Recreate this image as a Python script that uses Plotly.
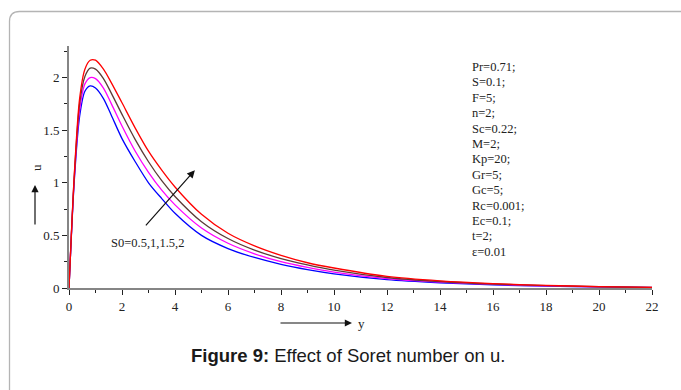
import plotly.graph_objects as go

# Velocity profiles u(y) for four values of the Soret number S0
y_vals = [0, 0.2, 0.4, 0.6, 0.8, 1.0, 1.3, 1.6, 2.0, 2.5, 3.0, 3.5, 4.0,
          5.0, 6.0, 7.0, 8.0, 9.0, 10, 12, 14, 16, 18, 20, 22]

u_s05 = [0, 1.02, 1.63, 1.87, 1.92, 1.90, 1.80, 1.64, 1.42, 1.20, 1.00, 0.85, 0.71,
         0.50, 0.375, 0.29, 0.225, 0.175, 0.135, 0.08, 0.05, 0.03, 0.018, 0.01, 0.004]
u_s10 = [0, 1.04, 1.69, 1.94, 2.00, 1.99, 1.90, 1.75, 1.54, 1.30, 1.10, 0.93, 0.79,
         0.57, 0.425, 0.325, 0.25, 0.195, 0.15, 0.09, 0.056, 0.034, 0.02, 0.011, 0.005]
u_s15 = [0, 1.06, 1.75, 2.01, 2.09, 2.08, 1.99, 1.85, 1.65, 1.41, 1.20, 1.02, 0.87,
         0.63, 0.47, 0.36, 0.28, 0.22, 0.17, 0.10, 0.062, 0.038, 0.023, 0.012, 0.005]
u_s20 = [0, 1.08, 1.80, 2.08, 2.165, 2.165, 2.08, 1.95, 1.76, 1.52, 1.30, 1.12, 0.96,
         0.70, 0.52, 0.40, 0.31, 0.24, 0.19, 0.11, 0.068, 0.042, 0.025, 0.014, 0.006]

series = [
    ("S0=0.5", u_s05, "#0000ff"),
    ("S0=1", u_s10, "#ff00ff"),
    ("S0=1.5", u_s15, "#5c3a36"),
    ("S0=2", u_s20, "#ff0000"),
]

x_ticks = list(range(0, 23, 2))
x_ticktext = [str(v) for v in x_ticks]
y_ticks = [0, 0.5, 1, 1.5, 2]
y_ticktext = ["0", "0.5", "1", "1.5", "2"]

params = ["Pr=0.71;", "S=0.1;", "F=5;", "n=2;", "Sc=0.22;", "M=2;", "Kp=20;",
          "Gr=5;", "Gc=5;", "Rc=0.001;", "Ec=0.1;", "t=2;", "\u03b5=0.01"]

W, H = 681, 390
ML, MR, MT, MB = 69, 29, 46, 102
PW, PH = W - ML - MR, H - MT - MB

def px(xp):
    return (xp - ML) / PW

def py(yp):
    return (H - MB - yp) / PH

SERIF = "Liberation Serif, Times New Roman, serif"

fig = go.Figure()
for name, u, col in series:
    fig.add_trace(go.Scatter(x=y_vals, y=u, mode="lines", name=name,
                             line=dict(color=col, width=1.3, shape="spline", smoothing=0.8),
                             hoverinfo="skip"))

axis_common = dict(showgrid=False, zeroline=False, showline=True,
                   linecolor="#858585", linewidth=2, ticks="outside",
                   tickcolor="#222", tickwidth=1.2, ticklen=5,
                   tickfont=dict(family=SERIF, size=13, color="#222"))

fig.update_xaxes(range=[0, 22], tickmode="array", tickvals=x_ticks, ticktext=x_ticktext,
                 minor=dict(dtick=1, tick0=0, ticks="outside", ticklen=3, tickcolor="#222"),
                 **axis_common)
fig.update_yaxes(range=[0, 2.3], tickmode="array", tickvals=y_ticks, ticktext=y_ticktext,
                 minor=dict(dtick=0.25, tick0=0, ticks="outside", ticklen=3, tickcolor="#222"),
                 **axis_common)

annotations = []
# parameter list
for i, t in enumerate(params):
    annotations.append(dict(xref="paper", yref="paper", x=px(470), y=py(67 + i * 15.4),
                            text=t, showarrow=False, xanchor="left", yanchor="middle",
                            font=dict(family=SERIF, size=12.5, color="#222")))
# S0 direction arrow and label
annotations.append(dict(xref="x", yref="y", axref="x", ayref="y",
                        x=4.75, y=1.12, ax=2.85, ay=0.58, text="", showarrow=True,
                        arrowhead=2, arrowsize=1.3, arrowwidth=1.2, arrowcolor="#111"))
annotations.append(dict(xref="paper", yref="paper", x=px(147), y=py(243),
                        xanchor="center", yanchor="middle",
                        text="S0=0.5,1,1.5,2", showarrow=False,
                        font=dict(family=SERIF, size=12.5, color="#222")))
# axis titles with arrows
annotations.append(dict(xref="paper", yref="paper", x=px(36), y=py(168), text="u",
                        xanchor="center", yanchor="middle",
                        textangle=-90, showarrow=False,
                        font=dict(family=SERIF, size=13, color="#222")))
annotations.append(dict(xref="paper", yref="paper", x=px(35), y=py(185), ax=0, ay=41,
                        text="", showarrow=True, arrowhead=2, arrowsize=1.2,
                        arrowwidth=1.2, arrowcolor="#111"))
annotations.append(dict(xref="paper", yref="paper", x=px(361), y=py(323), text="y",
                        xanchor="center", yanchor="middle",
                        showarrow=False, font=dict(family=SERIF, size=13, color="#222")))
annotations.append(dict(xref="paper", yref="paper", x=px(352), y=py(323), ax=-73, ay=0,
                        text="", showarrow=True, arrowhead=2, arrowsize=1.2,
                        arrowwidth=1.2, arrowcolor="#111"))
# caption
annotations.append(dict(xref="paper", yref="paper", x=px(348), y=py(355),
                        xanchor="center", yanchor="middle",
                        text="<b>Figure 9:</b> Effect of Soret number on u.",
                        showarrow=False,
                        font=dict(family="Liberation Sans, Arial, sans-serif", size=18.5,
                                  color="#1a1a1a")))

# rounded frame around the figure
x0, y0, x1, y1, r = 9.5, 11.5, 720, 420, 10
frame_path = (f"M {px(x0)},{py(y1)} L {px(x0)},{py(y0 + r)} "
              f"Q {px(x0)},{py(y0)} {px(x0 + r)},{py(y0)} L {px(x1)},{py(y0)}")

fig.update_layout(
    width=W, height=H,
    margin=dict(l=ML, r=MR, t=MT, b=MB),
    paper_bgcolor="white", plot_bgcolor="white",
    showlegend=False,
    annotations=annotations,
    shapes=[dict(type="path", xref="paper", yref="paper", path=frame_path,
                 line=dict(color="#b4b4b4", width=1.3), layer="below")],
)

fig.write_html("out.html", config={"displayModeBar": False})
